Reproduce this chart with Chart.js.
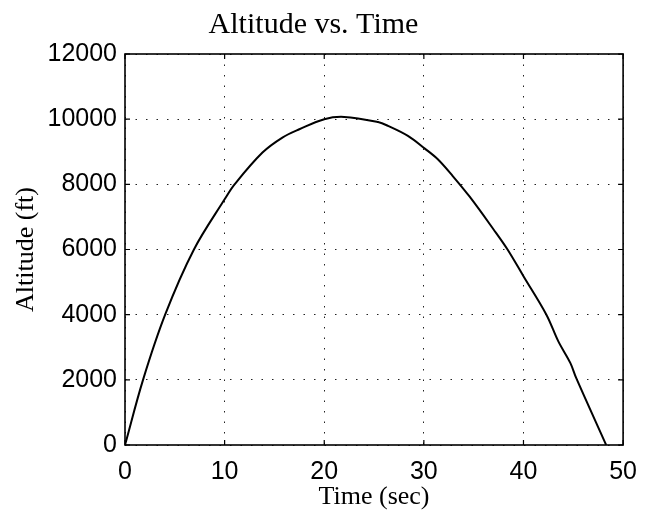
<!DOCTYPE html>
<html>
<head>
<meta charset="utf-8">
<script src="https://cdn.jsdelivr.net/npm/chart.js@4/dist/chart.umd.min.js"></script>
<style>
  html, body { margin: 0; padding: 0; background: #fff; }
  #wrap { width: 649px; height: 518px; }
</style>
</head>
<body>
<div id="wrap"><canvas id="c" width="649" height="518"></canvas></div>
<script>
// ---- data ----
const chartTitle = 'Altitude vs. Time';
const xLabel = 'Time (sec)';
const yLabel = 'Altitude (ft)';
const times     = [0, 1.81, 4.03, 6.92, 10.0, 11.0, 13.8, 15.8, 17.5, 20.0, 22.0, 25.4, 26.4, 28.4, 30.1, 31.4, 32.9, 34.6, 37.0, 38.4, 40.0, 42.3, 43.5, 44.7, 45.3, 48.3];
const altitudes = [0, 2000, 4000, 6000, 7540, 8000, 8975, 9435, 9690, 10000, 10070, 9910, 9795, 9487, 9097, 8770, 8255, 7620, 6615, 6000, 5180, 4000, 3180, 2520, 2050, 0];
const xTicks = [0, 10, 20, 30, 40, 50];
const yTicks = [0, 2000, 4000, 6000, 8000, 10000, 12000];

const points = times.map((t, i) => ({ x: t, y: altitudes[i] }));

const boxPlugin = {
  id: 'boxPlugin',
  afterDraw(chart) {
    const { ctx, chartArea: a, scales } = chart;
    ctx.save();
    ctx.strokeStyle = '#000';
    ctx.lineWidth = 1.6;
    ctx.setLineDash([]);
    ctx.strokeRect(a.left, a.top, a.right - a.left, a.bottom - a.top);
    const tl = 5;
    ctx.lineWidth = 1.2;
    ctx.beginPath();
    xTicks.forEach(v => {
      const px = scales.x.getPixelForValue(v);
      ctx.moveTo(px, a.bottom); ctx.lineTo(px, a.bottom - tl);
      ctx.moveTo(px, a.top); ctx.lineTo(px, a.top + tl);
    });
    yTicks.forEach(v => {
      const py = scales.y.getPixelForValue(v);
      ctx.moveTo(a.left, py); ctx.lineTo(a.left + tl, py);
      ctx.moveTo(a.right, py); ctx.lineTo(a.right - tl, py);
    });
    ctx.stroke();
    ctx.restore();
  }
};

new Chart(document.getElementById('c'), {
  type: 'line',
  data: {
    datasets: [{
      data: points,
      borderColor: '#000',
      borderWidth: 2,
      pointRadius: 0,
      tension: 0.35,
      fill: false
    }]
  },
  options: {
    responsive: false,
    animation: false,
    layout: { padding: { left: 0, right: 22, top: 0, bottom: 0 } },
    plugins: {
      legend: { display: false },
      tooltip: { enabled: false },
      title: {
        display: true,
        text: chartTitle,
        color: '#000',
        font: { family: 'Liberation Serif', size: 30, weight: 'normal', lineHeight: 1.2 },
        padding: { top: 7, bottom: 11 }
      }
    },
    scales: {
      x: {
        type: 'linear',
        min: xTicks[0],
        max: xTicks[xTicks.length - 1],
        afterFit(scale) { scale.height = 73; },
        ticks: {
          stepSize: 10,
          color: '#000',
          padding: 12,
          maxRotation: 0,
          callback: v => String(v),
          font: { family: 'Liberation Sans', size: 25 }
        },
        grid: { color: '#222', lineWidth: 1, drawTicks: false },
        border: { display: false, dash: [1.5, 9] },
        title: {
          display: true,
          text: xLabel,
          color: '#000',
          font: { family: 'Liberation Serif', size: 26, lineHeight: 1.2 },
          padding: { top: 0, bottom: 5 }
        }
      },
      y: {
        type: 'linear',
        min: yTicks[0],
        max: yTicks[yTicks.length - 1],
        afterFit(scale) { scale.width = 125; },
        ticks: {
          stepSize: 2000,
          color: '#000',
          padding: 8,
          callback: v => String(v),
          font: { family: 'Liberation Sans', size: 25 }
        },
        grid: { color: '#222', lineWidth: 1, drawTicks: false },
        border: { display: false, dash: [1.5, 9] },
        title: {
          display: true,
          text: yLabel,
          color: '#000',
          font: { family: 'Liberation Serif', size: 26, lineHeight: 1.2 },
          padding: { top: 11, bottom: 0 }
        }
      }
    }
  },
  plugins: [boxPlugin]
});
</script>
</body>
</html>
